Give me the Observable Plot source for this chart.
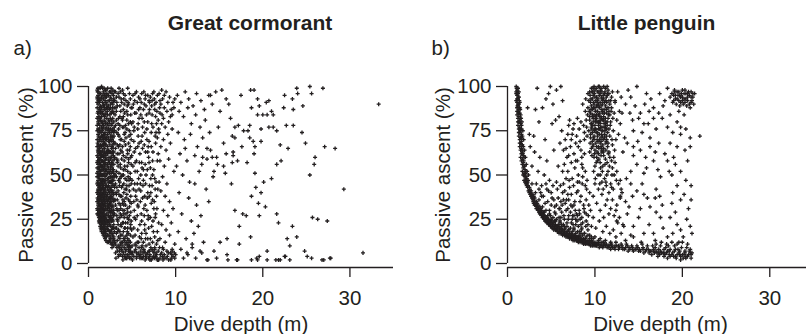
<!DOCTYPE html>
<html>
<head>
<meta charset="utf-8">
<script src="https://cdn.jsdelivr.net/npm/d3@7"></script>
<script src="https://cdn.jsdelivr.net/npm/@observablehq/plot@0.6"></script>
<style>
  html, body { margin: 0; padding: 0; background: #fff; overflow: hidden; }
  #wrap { position: relative; width: 806px; height: 334px; overflow: hidden; }
  #wrap > svg { position: absolute; top: 0; }
</style>
</head>
<body>
<div id="wrap"></div>
<script>
const panelTitles = ["Great cormorant", "Little penguin"];
const panelLetters = ["a)", "b)"];
const xLabel = "Dive depth (m)";
const yLabel = "Passive ascent (%)";
const depthDomain = [0, 35];
const depthTicks = [0, 10, 20, 30];
const ascentTicks = [0, 25, 50, 75, 100];

// Great cormorant: [dive depth (m), passive ascent (%)]
const cormorant = [
[1.1,97],[1.3,92],[1.0,88],[1.6,99],[1.4,85],[1.2,81],[1.8,95],[1.5,77],[1.1,73],[1.7,89],
[1.3,70],[1.9,84],[1.0,66],[1.4,63],[1.6,72],[1.2,59],[1.8,68],[1.5,55],[1.1,52],[1.7,61],
[1.3,48],[1.9,57],[1.0,45],[1.4,42],[1.6,50],[1.2,38],[1.8,46],[1.5,35],[1.1,33],[1.7,40],
[1.3,30],[1.9,37],[1.0,28],[1.4,26],[1.6,31],[1.2,24],[1.8,27],[1.5,22],[1.7,19],[1.9,21],
[1.2,99],[1.5,94],[1.0,91],[1.8,87],[1.3,83],[1.6,79],[1.1,76],[1.9,74],[1.4,71],[1.7,67],
[1.2,64],[1.5,61],[1.0,57],[1.8,54],[1.3,51],[1.6,47],[1.1,44],[1.9,41],[1.4,39],[1.7,36],
[1.2,32],[1.5,29],[1.0,31],[1.8,25],[1.3,27],[1.6,23],[1.9,18],[1.4,20],[1.7,16],[1.9,14],
[1.1,95],[1.4,96],[1.7,93],[1.0,82],[1.3,78],[1.6,85],[1.9,80],[1.2,69],[1.5,66],[1.8,63],
[1.1,60],[1.4,56],[1.7,53],[1.0,49],[1.3,45],[1.6,43],[1.9,49],[1.2,41],[1.5,38],[1.8,34],
[1.1,36],[1.4,33],[1.7,29],[1.3,35],[1.6,26],[1.9,30],[1.5,18],[1.8,22],[1.2,27],[1.4,24],
[1.0,98],[1.2,93],[1.4,89],[1.6,91],[1.8,99],[1.1,86],[1.3,74],[1.5,83],[1.7,78],[1.9,92],
[1.0,70],[1.2,75],[1.4,67],[1.6,64],[1.8,71],[1.1,63],[1.3,57],[1.5,58],[1.7,47],[1.9,62],
[1.0,54],[1.2,50],[1.4,52],[1.6,55],[1.8,51],[1.1,47],[1.3,42],[1.5,46],[1.7,44],[1.9,45],
[1.0,40],[1.2,44],[1.4,37],[1.6,39],[1.8,38],[1.1,39],[1.3,33],[1.5,31],[1.7,33],[1.9,34],
[1.0,35],[1.2,30],[1.4,29],[1.6,34],[1.8,30],[1.1,30],[1.3,25],[1.5,26],[1.7,24],[1.9,25],
[1.6,20],[1.8,18],[1.7,21],[1.9,16],[2.0,13],[1.5,23],[1.4,21],[1.3,23],[1.2,26],[1.1,28],
[1.0,94],[1.3,96],[1.5,100],[1.7,97],[1.9,96],[1.1,90],[1.3,87],[1.5,88],[1.7,84],[1.9,87],
[1.0,78],[1.2,85],[1.4,81],[1.6,76],[1.8,81],[1.1,80],[1.3,66],[1.5,72],[1.7,70],[1.9,67],
[1.0,61],[1.2,66],[1.4,60],[1.6,58],[1.8,58],[1.1,56],[1.3,62],[1.5,50],[1.7,57],[1.9,53],
[1.0,51],[1.2,54],[1.4,47],[1.6,45],[1.8,42],[1.1,42],[1.3,39],[1.5,42],[1.7,37],[1.9,39],
[1.2,36],[1.4,31],[1.6,28],[1.8,33],[1.3,28],[1.5,33],[1.7,26],[1.9,27],[1.6,24],[1.8,24],
[1.05,97],[1.15,92],[1.25,88],[1.35,99],[1.45,93],[1.55,86],[1.65,95],[1.75,90],[1.85,83],[1.95,98],
[1.05,85],[1.15,79],[1.25,76],[1.35,82],[1.45,74],[1.55,80],[1.65,71],[1.75,77],[1.85,73],[1.95,79],
[1.05,68],[1.15,72],[1.25,65],[1.35,61],[1.45,69],[1.55,63],[1.65,67],[1.75,60],[1.85,65],[1.95,70],
[1.05,58],[1.15,54],[1.25,57],[1.35,50],[1.45,55],[1.55,48],[1.65,53],[1.75,50],[1.85,56],[1.95,59],
[1.05,46],[1.15,49],[1.25,43],[1.35,47],[1.45,40],[1.55,44],[1.65,38],[1.75,42],[1.85,47],[1.95,43],
[1.05,37],[1.15,34],[1.25,39],[1.35,32],[1.45,36],[1.55,30],[1.65,35],[1.75,31],[1.85,36],[1.95,32],
[1.05,30],[1.15,27],[1.25,29],[1.35,25],[1.45,28],[1.55,24],[1.65,27],[1.75,22],[1.85,26],[1.95,23],
[1.35,21],[1.45,19],[1.55,20],[1.65,17],[1.75,18],[1.85,15],[1.95,19],[2.05,15],[2.15,12],[1.25,23],
[1.02,93],[1.12,83],[1.22,71],[1.32,59],[1.42,45],[1.52,35],[1.62,25],[1.72,23],[1.82,20],[1.92,17],
[1.08,64],[1.18,58],[1.28,53],[1.38,43],[1.48,33],[1.58,27],[1.68,41],[1.78,55],[1.88,68],[1.98,76],
[1.02,75],[1.12,67],[1.22,62],[1.32,55],[1.42,50],[1.52,53],[1.62,61],[1.72,73],[1.82,89],[1.92,94],
[1.08,99],[1.18,94],[1.28,91],[1.38,86],[1.48,80],[1.58,75],[1.68,69],[1.78,65],[1.88,61],[1.98,53],
[1.08,41],[1.18,45],[1.28,36],[1.38,40],[1.48,30],[1.58,38],[1.68,32],[1.78,28],[1.88,40],[1.98,47],
[2.0,98],[2.3,95],[2.6,99],[2.9,93],[2.1,90],[2.4,87],[2.7,91],[2.2,84],[2.5,82],[2.8,86],
[2.0,79],[2.3,76],[2.6,78],[2.9,74],[2.1,71],[2.4,69],[2.7,72],[2.2,66],[2.5,63],[2.8,67],
[2.0,61],[2.3,58],[2.6,60],[2.9,56],[2.1,53],[2.4,51],[2.7,54],[2.2,48],[2.5,46],[2.8,49],
[2.0,44],[2.3,41],[2.6,43],[2.9,39],[2.1,36],[2.4,34],[2.7,37],[2.2,31],[2.5,29],[2.8,32],
[2.0,27],[2.3,24],[2.6,26],[2.9,22],[2.1,20],[2.4,18],[2.7,21],[2.2,16],[2.5,14],[2.8,17],
[2.0,17],[2.3,12],[2.6,11],[2.9,10],[2.4,13],[2.7,9],[2.2,19],[2.5,21],[2.8,12],[2.1,23],
[2.1,96],[2.4,92],[2.7,96],[2.2,88],[2.5,94],[2.8,90],[2.0,85],[2.3,81],[2.6,85],[2.9,80],
[2.1,77],[2.4,74],[2.7,79],[2.2,73],[2.5,70],[2.8,76],[2.0,67],[2.3,64],[2.6,69],[2.9,63],
[2.1,59],[2.4,57],[2.7,62],[2.2,56],[2.5,53],[2.8,58],[2.0,52],[2.3,48],[2.6,51],[2.9,47],
[2.1,44],[2.4,40],[2.7,45],[2.2,39],[2.5,37],[2.8,41],[2.0,35],[2.3,32],[2.6,35],[2.9,30],
[2.1,28],[2.4,26],[2.7,29],[2.2,24],[2.5,25],[2.8,24],[2.3,19],[2.6,17],[2.9,15],[2.7,14],
[2.0,91],[2.2,99],[2.4,97],[2.6,93],[2.8,98],[2.3,89],[2.5,88],[2.7,86],[2.9,85],[2.1,82],
[2.4,80],[2.6,74],[2.8,71],[2.3,71],[2.5,76],[2.0,72],[2.2,62],[2.7,66],[2.9,68],[2.4,63],
[2.6,56],[2.8,53],[2.3,54],[2.5,59],[2.0,56],[2.2,51],[2.7,49],[2.9,51],[2.4,46],[2.6,47],
[2.8,44],[2.3,44],[2.5,42],[2.0,40],[2.2,43],[2.7,40],[2.9,35],[2.4,37],[2.6,38],[2.8,36],
[2.3,36],[2.5,33],[2.0,31],[2.2,35],[2.7,33],[2.9,27],[2.4,30],[2.6,30],[2.8,28],[2.5,18],
[2.05,94],[2.15,86],[2.25,92],[2.35,78],[2.45,84],[2.55,97],[2.65,81],[2.75,88],[2.85,95],[2.95,77],
[2.05,70],[2.15,64],[2.25,75],[2.35,60],[2.45,67],[2.55,72],[2.65,57],[2.75,63],[2.85,69],[2.95,59],
[2.05,50],[2.15,55],[2.25,46],[2.35,52],[2.45,43],[2.55,49],[2.65,41],[2.75,47],[2.85,53],[2.95,44],
[2.05,38],[2.15,33],[2.25,37],[2.35,29],[2.45,35],[2.55,27],[2.65,32],[2.75,25],[2.85,30],[2.95,36],
[2.05,25],[2.15,21],[2.25,27],[2.35,16],[2.45,23],[2.55,12],[2.65,19],[2.75,11],[2.85,20],[2.95,13],
[2.08,88],[2.18,79],[2.28,69],[2.38,57],[2.48,49],[2.58,40],[2.68,30],[2.78,20],[2.88,14],[2.98,18],
[2.08,63],[2.18,42],[2.28,33],[2.38,22],[2.48,15],[2.58,60],[2.68,70],[2.78,82],[2.88,92],[2.98,97],
[2.12,30],[2.22,22],[2.32,27],[2.42,31],[2.52,38],[2.62,46],[2.72,56],[2.82,65],[2.92,72],[2.12,95],
[2.55,90],[2.65,65],[2.75,52],[2.85,39],[2.95,88],[2.55,55],[2.65,85],[2.75,75],[2.85,61],[2.95,49],
[2.55,35],[2.65,24],[2.75,16],[2.85,27],
[3.1,97],[3.5,94],[3.9,98],[4.3,92],[4.7,96],[3.3,89],[3.7,86],[4.1,90],[4.5,84],[4.9,88],
[3.2,81],[3.6,78],[4.0,83],[4.4,76],[4.8,80],[3.4,73],[3.8,70],[4.2,74],[4.6,68],[3.0,75],
[3.1,65],[3.5,62],[3.9,66],[4.3,60],[4.7,64],[3.3,57],[3.7,54],[4.1,58],[4.5,52],[4.9,56],
[3.2,49],[3.6,46],[4.0,50],[4.4,44],[4.8,48],[3.4,41],[3.8,38],[4.2,42],[4.6,36],[3.0,43],
[3.1,33],[3.5,30],[3.9,34],[4.3,28],[4.7,32],[3.3,25],[3.7,22],[4.1,26],[4.5,20],[4.9,24],
[3.2,17],[3.6,14],[4.0,18],[4.4,12],[4.8,16],[3.4,10],[3.8,8],[4.2,11],[4.6,7],[3.0,12],
[3.1,6],[3.5,5],[3.9,4],[4.3,5],[4.7,3],[3.3,13],[3.7,16],[4.1,9],[4.5,14],[4.9,6],
[3.0,92],[3.4,96],[3.8,91],[4.2,95],[4.6,90],[3.2,86],[3.6,83],[4.0,87],[4.4,81],[4.8,93],
[3.1,78],[3.5,72],[3.9,77],[4.3,71],[4.7,75],[3.3,67],[3.7,64],[4.1,69],[4.5,62],[4.9,70],
[3.0,60],[3.4,55],[3.8,59],[4.2,53],[4.6,57],[3.2,52],[3.6,48],[4.0,53],[4.4,47],[4.8,51],
[3.1,45],[3.5,39],[3.9,44],[4.3,37],[4.7,41],[3.3,36],[3.7,31],[4.1,35],[4.5,29],[4.9,34],
[3.0,28],[3.4,22],[3.8,27],[4.2,20],[4.6,25],[3.2,20],[3.6,18],[4.0,23],[4.4,16],[4.8,20],
[3.1,11],[3.5,9],[3.9,12],[4.3,8],[4.7,10],[3.3,7],[3.7,5],[4.1,4],[4.5,5],[4.9,3],
[3.5,99],[4.0,96],[4.5,99],[3.2,94],[3.6,89],[4.4,86],[3.9,81],[4.6,79],[3.4,79],[4.1,73],
[3.6,67],[4.8,66],[3.3,62],[4.0,61],[4.6,59],[3.5,51],[4.2,48],[4.9,45],[3.2,39],[3.8,43],
[4.4,39],[3.5,34],[4.1,30],[4.7,27],[3.3,30],[3.9,23],[4.5,23],[3.6,26],[4.2,15],[4.8,12],
[3.05,84],[3.25,91],[3.45,76],[3.65,97],[3.85,82],[4.05,93],[4.25,78],[4.45,89],[4.65,72],[4.85,84],
[3.05,68],[3.25,59],[3.45,66],[3.65,56],[3.85,63],[4.05,45],[4.25,67],[4.45,55],[4.65,47],[4.85,60],
[3.05,50],[3.25,43],[3.45,47],[3.65,38],[3.85,50],[4.05,40],[4.25,33],[4.45,26],[4.65,44],[4.85,38],
[3.05,36],[3.25,27],[3.45,19],[3.65,33],[3.85,16],[4.05,28],[4.25,23],[4.45,18],[4.65,13],[4.85,29],
[3.05,20],[3.25,9],[3.45,15],[3.65,11],[3.85,7],[4.05,14],[4.25,7],[4.45,10],[4.65,4],[4.85,9],
[3.15,3],[3.55,7],[3.95,2],[4.35,3],[4.75,6],[3.75,12],[4.15,20],[3.35,24],[4.55,17],[3.95,30],
[3.15,88],[3.45,82],[3.75,93],[4.15,85],[4.55,91],[4.95,79],[3.25,74],[3.65,70],[4.05,77],[4.45,64],
[4.85,73],[3.35,58],[3.75,49],[4.15,55],[4.55,49],[4.95,61],[3.15,40],[3.55,44],[3.95,36],[4.35,42],
[4.75,35],[3.25,31],[3.65,28],[4.05,33],[4.45,31],[4.85,22],[3.35,18],[3.75,21],[4.15,13],[4.55,11],
[4.95,19],[3.45,4],[3.85,10],[4.25,3],[4.65,8],
[5.1,95],[5.6,91],[6.1,96],[6.6,89],[7.1,94],[7.6,90],[5.3,85],[5.8,82],[6.3,87],[6.8,80],
[7.3,84],[7.8,79],[5.2,75],[5.7,72],[6.2,77],[6.7,70],[7.2,74],[7.7,68],[5.4,65],[5.9,62],
[6.4,67],[6.9,60],[7.4,63],[7.9,58],[5.1,55],[5.6,52],[6.1,57],[6.6,50],[7.1,54],[7.6,48],
[5.3,45],[5.8,42],[6.3,47],[6.8,40],[7.3,44],[7.8,38],[5.2,35],[5.7,32],[6.2,37],[6.7,30],
[7.2,34],[7.7,28],[5.4,25],[5.9,22],[6.4,27],[6.9,20],[7.4,24],[7.9,18],[5.1,15],[5.6,12],
[6.1,17],[6.6,10],[7.1,14],[7.6,9],[5.3,7],[5.8,5],[6.3,4],[6.8,6],[7.3,3],[7.8,5],
[5.0,88],[5.5,97],[6.0,84],[6.5,93],[7.0,87],[7.5,97],[5.2,69],[5.7,79],[6.2,65],[6.7,76],
[7.2,66],[7.7,83],[5.5,58],[6.0,50],[6.5,56],[7.0,44],[7.5,53],[5.0,47],[5.4,38],[6.0,41],
[6.5,33],[7.0,38],[7.5,31],[5.6,27],[6.1,24],[6.6,17],[7.1,26],[7.6,15],[5.2,20],[5.8,9],
[6.3,12],[6.8,14],[7.3,8],[7.8,11],[5.5,3],[6.0,7],[6.5,2],[7.0,4],[7.5,6],[5.0,10],
[5.3,92],[5.9,88],[6.4,80],[7.4,77],[5.1,80],[5.8,68],[6.8,63],[7.9,71],[6.3,53],[5.6,45],
[5.15,90],[5.45,85],[5.75,94],[6.05,91],[6.35,97],[6.65,84],[6.95,92],[7.25,89],[7.55,93],[7.85,86],
[5.25,77],[5.65,66],[6.15,72],[6.55,63],[6.95,69],[7.35,58],[7.75,74],[5.35,52],[5.85,57],[6.25,44],
[6.75,53],[7.15,48],[7.65,42],[5.45,41],[5.95,35],[6.45,38],[6.85,27],[7.35,36],[7.85,31],[5.25,30],
[5.65,19],[6.05,14],[6.45,22],[6.95,11],[7.45,18],[7.95,13],[5.35,11],[5.85,15],[6.35,8],[7.15,9],
[5.05,2],[5.55,4],[6.05,3],[6.55,4],[7.05,2],[7.55,3],[8.05,2],[8.55,2],[9.05,4],[9.55,5],
[5.35,96],[5.75,87],[6.15,82],[6.55,95],[6.95,85],[7.35,96],[7.75,91],[8.15,88],[5.25,63],[5.65,76],
[6.05,69],[6.45,74],[6.85,66],[7.25,79],[7.65,72],[8.05,76],[8.45,84],[5.35,57],[5.75,48],[6.15,54],
[6.55,45],[6.95,57],[7.35,50],[7.75,46],[5.15,42],[5.55,36],[5.95,45],[6.35,31],[6.75,37],[7.15,40],
[7.55,35],[7.95,42],[5.25,26],[5.65,33],[6.05,28],[6.45,19],[6.85,25],[7.25,21],[7.65,26],[8.05,23],
[5.35,16],[5.75,12],[6.15,10],[6.55,14],[6.95,7],[7.35,12],[7.75,6],[8.15,9],[5.05,6],[5.45,10],
[5.85,4],[6.25,6],[6.65,3],[7.05,5],[7.45,4],[7.85,3],[8.25,5],[8.65,3],[9.15,6],[9.45,2],[9.85,6],
[5.2,4],[5.7,6],[6.2,3],[6.7,5],[7.2,2],[7.7,4],[8.2,3],[8.7,5],[9.2,2],[9.7,4],
[5.4,8],[5.9,3],[6.4,7],[6.9,3],[7.4,7],[7.9,2],[8.4,6],[8.9,3],[9.4,6],[9.9,3],
[4.0,6],[4.4,3],[4.8,7],[5.0,5],[5.5,6],[6.0,5],[6.5,6],[7.0,7],[7.5,4],[8.0,7],
[8.5,4],[9.0,7],[9.5,3],[10.0,5],[3.6,9],[4.6,9],[6.1,9],[7.6,8],[8.6,8],[9.6,7],
[8.1,96],[8.5,93],[8.9,97],[9.3,94],[9.7,91],[8.3,90],[8.7,88],[9.1,91],[9.5,87],[9.9,93],
[8.2,85],[8.6,82],[9.0,86],[9.4,83],[9.8,88],[8.4,79],[8.8,77],[9.2,80],[9.6,84],[8.0,81],
[8.1,74],[8.6,70],[9.1,73],[9.6,76],[8.3,66],[8.9,64],[9.4,68],[8.2,58],[8.7,55],[9.2,59],
[8.5,49],[9.0,45],[9.8,52],[8.3,41],[8.8,38],[9.3,35],[8.6,30],[9.1,27],[9.7,31],[8.4,22],
[8.9,19],[9.5,23],[8.2,14],[8.8,12],[9.3,16],[9.9,11],[8.5,9],[9.6,8],[8.0,62],[8.1,46],
[6.8,95],[7.3,92],[7.9,95],[8.4,98],[5.9,93],[6.4,90],[7.0,91],[7.6,87],[8.2,92],[8.7,95],
[10.2,95],[10.6,91],[11.1,97],[11.5,93],[12.0,89],[12.4,96],[12.9,92],[13.3,87],[13.8,95],[10.4,86],
[10.9,83],[11.4,88],[11.8,79],[12.3,84],[12.8,77],[13.4,81],[10.3,74],[11.0,70],[11.7,73],[12.5,66],
[13.1,71],[10.5,62],[11.3,58],[12.2,61],[13.0,56],[10.8,50],[11.6,46],[12.7,52],[10.4,40],[11.5,37],
[12.4,33],[13.5,42],[10.7,28],[11.8,24],[12.9,27],[10.3,18],[11.2,14],[12.1,17],[13.2,12],[10.6,8],
[11.4,5],[12.3,3],[13.0,6],[13.7,2],[10.9,3],[11.9,9],[12.6,21],[13.6,65],[10.1,55],[11.1,65],
[14.0,95],[14.3,49],[14.4,52],[14.8,56],[14.2,60],[14.7,60],[14.0,64],[13.1,60],[13.6,59],[15.3,98],
[15.8,93],[15.7,51],[15.5,55],[16.5,57],[17.1,58],[16.6,61],[16.6,63],[15.8,62],[16.4,45],[16.8,30],
[17.7,28],[18.1,27],[17.3,21],[17.3,11],[18.6,15],[16.0,2],[17.1,2],[18.7,2],[19.4,2],[19.6,4],
[20.5,2],[20.5,7],[19.1,51],[19.2,43],[18.7,38],[19.8,40],[20.1,46],[19.5,34],[20.3,32],[19.6,27],
[21.0,48],[21.6,28],[21.8,23],[22.5,4],[22.0,2],[21.5,2],[22.8,14],[23.9,15],[23.1,10],[23.4,21],
[24.8,7],[25.1,4],[25.6,3],[27.0,2],[27.8,3],[25.7,26],[26.3,25],[27.4,24],[25.4,50],[25.9,56],
[26.0,60],[24.9,68],[27.1,66],[28.3,65],[22.9,65],[22.0,67],[22.1,58],[21.6,56],[22.7,78],[23.5,78],
[24.5,74],[22.4,88],[23.5,87],[24.6,89],[23.4,93],[22.5,95],[24.0,96],[23.9,99],[25.4,100],[25.6,96],
[26.9,99],[33.3,90],[29.3,42],[31.5,6],[19.0,62],[19.1,66],[18.9,69],[18.5,71],[19.8,69],[16.8,71],
[16.5,72],[17.8,75],[18.3,75],[16.8,77],[17.2,78],[18.5,78],[19.8,76],[20.7,77],[21.2,77],[21.6,75],
[20.5,84],[21.2,84],[20.0,84],[19.4,84],[21.0,86],[20.4,91],[20.7,92],[19.6,89],[18.7,88],[19.4,93],
[18.6,98],[19.0,98],[17.5,95],[16.1,90],[14.6,97],[15.9,14],[15.1,12],[15.9,5],[17.0,2],[14.7,3],
[13.6,2],[12.8,7],[11.9,11],[14.4,7],[11.3,6],[19.3,3],[21.8,2],[22.6,4],[23.1,2],[26.8,2],
[27.7,3],[14.2,90],[15.1,86],[16.3,82],[14.9,77],[13.9,74],[15.5,68],[17.6,66],[18.2,57],[12.2,45],[13.8,35]
];

// Little penguin: [dive depth (m), passive ascent (%)]
const penguin = [
[1.0,100],[1.1,98],[1.2,99],[1.0,96],[1.3,97],[1.1,95],[1.2,93],[1.0,92],[1.3,94],[1.1,91],
[1.2,90],[1.4,91],[1.1,88],[1.3,87],[1.2,86],[1.4,85],[1.1,84],[1.3,83],[1.5,84],[1.2,82],
[1.4,81],[1.3,80],[1.5,79],[1.2,78],[1.4,77],[1.6,78],[1.3,76],[1.5,75],[1.4,74],[1.6,73],
[1.3,72],[1.5,71],[1.7,72],[1.4,70],[1.6,69],[1.5,68],[1.7,67],[1.4,66],[1.6,65],[1.8,66],
[1.5,64],[1.7,63],[1.6,62],[1.8,61],[1.5,60],[1.7,59],[1.9,60],[1.6,58],[1.8,57],[1.7,56],
[1.9,55],[1.8,54],[2.0,53],[1.7,52],[1.9,51],[2.1,52],[1.8,50],[2.0,49],[2.2,48],[1.9,47],
[1.0,97],[1.1,93],[1.2,89],[1.2,96],[1.3,90],[1.4,88],[1.5,82],[1.6,76],[1.6,71],[1.7,64],
[1.05,99],[1.15,96],[1.25,94],[1.15,89],[1.35,92],[1.25,85],[1.45,87],[1.35,80],[1.55,82],[1.45,76],
[1.65,80],[1.55,71],[1.75,75],[1.65,67],[1.85,70],[1.75,62],[1.95,64],[1.85,58],[2.05,60],[1.95,55],
[2.15,56],[2.05,51],[2.25,52],[2.15,47],[2.35,47],[2.25,45],[1.1,86],[1.2,80],[1.3,74],[1.4,68],
[2.0,46],[2.1,49],[2.2,44],[2.3,46],[2.4,41],[2.5,43],[2.6,39],[2.7,41],[2.8,37],[2.9,39],
[3.0,34],[3.1,37],[3.2,33],[3.3,35],[3.4,31],[3.5,33],[3.6,29],[3.7,32],[3.8,28],[3.9,30],
[4.0,26],[4.1,29],[4.2,25],[4.3,27],[4.4,24],[4.5,26],[4.6,23],[4.7,25],[4.8,22],[4.9,24],
[5.0,21],[5.1,24],[5.2,20],[5.3,23],[5.4,20],[5.5,22],[5.6,19],[5.7,21],[5.8,18],[5.9,21],
[6.0,18],[6.1,20],[6.2,17],[6.3,19],[6.4,17],[6.5,19],[6.6,16],[6.7,18],[6.8,16],[6.9,18],
[7.0,15],[7.1,17],[7.2,15],[7.3,17],[7.4,14],[7.5,16],[7.6,14],[7.7,16],[7.8,14],[7.9,15],
[8.0,13],[8.1,15],[8.2,13],[8.3,15],[8.4,13],[8.5,14],[8.6,12],[8.7,14],[8.8,12],[8.9,14],
[9.0,12],[9.2,13],[9.4,11],[9.6,13],[9.8,11],[10.0,12],[10.2,10],[10.4,12],[10.6,10],[10.8,12],
[11.0,10],[11.3,11],[11.6,9],[11.9,11],[12.2,9],[12.5,10],[12.8,9],[13.1,10],[13.4,8],[13.7,10],
[14.0,8],[14.3,9],[14.6,8],[14.9,9],[15.2,7],[15.5,9],[15.8,7],[16.1,8],[16.4,7],[16.7,8],
[17.0,7],[17.3,8],[17.6,6],[17.9,8],[18.2,6],[18.5,7],[18.8,5],[19.1,7],[19.4,5],[19.7,7],
[20.0,5],[20.3,6],[20.6,4],[20.9,6],[21.0,5],
[2.1,45],[2.3,43],[2.5,40],[2.7,38],[2.9,36],[3.1,33],[3.3,31],[3.5,30],[3.7,28],[3.9,27],
[4.1,26],[4.3,24],[4.5,23],[4.7,22],[4.9,21],[5.1,20],[5.3,19],[5.5,19],[5.7,18],[5.9,17],
[6.1,17],[6.3,16],[6.5,16],[6.7,15],[6.9,15],[7.1,14],[7.3,14],[7.5,13],[7.7,13],[7.9,13],
[8.1,12],[8.3,12],[8.5,12],[8.7,11],[8.9,11],[9.1,11],[9.3,11],[9.5,10],[9.7,10],[9.9,10],
[10.1,10],[10.5,9],[10.9,9],[11.4,9],[11.8,8],[12.3,8],[12.7,8],[13.2,8],[13.8,7],[14.4,7],
[15.0,7],[15.6,6],[16.2,6],[16.8,6],[17.4,5],[18.0,5],[18.6,4],[19.2,4],[19.8,4],[20.4,3],
[2.4,50],[2.8,45],[3.2,40],[3.6,36],[4.0,32],[4.4,30],[4.8,28],[5.2,26],[5.6,25],[6.0,23],
[6.4,22],[6.8,21],[7.2,20],[7.6,19],[8.0,18],[8.4,17],[8.8,17],[9.2,16],[9.6,15],[10.0,15],
[10.6,14],[11.2,13],[11.8,12],[12.4,12],[13.0,11],[13.6,11],[14.2,10],[14.8,10],[15.4,11],[16.0,10],
[2.55,42],[2.75,39],[2.95,37],[3.15,35],[3.35,32],[3.55,31],[3.75,29],[3.95,28],[4.15,27],[4.35,25],
[4.55,25],[4.75,23],[4.95,23],[5.15,22],[5.35,21],[5.55,20],[5.75,20],[5.95,19],[6.15,18],[6.35,18],
[6.55,17],[6.75,17],[6.95,16],[7.15,16],[7.35,15],[7.55,15],[7.75,15],[7.95,14],[8.15,14],[8.35,14],
[8.55,13],[8.75,13],[8.95,13],[9.15,12],[9.35,12],[9.55,12],[9.75,12],[9.95,11],[10.15,11],[10.35,11],
[3.0,38],[3.4,34],[3.8,31],[4.2,29],[4.6,27],[5.0,25],[5.4,24],[5.8,22],[6.2,21],[6.6,20],
[7.0,19],[7.4,18],[7.8,17],[8.2,16],[8.6,16],[9.0,15],[9.4,14],[9.8,14],[10.4,13],[11.0,12],
[1.95,50],[2.05,47],[2.2,46],[2.35,44],[2.5,41],[2.65,40],[2.8,38],[2.95,35],[3.1,35],[3.25,33],
[3.4,32],[3.55,30],[3.7,30],[3.85,29],[4.0,28],[4.2,27],[4.4,26],[4.6,24],[4.8,24],[5.0,23],
[5.3,22],[5.6,21],[5.9,20],[6.2,19],[6.5,18],[6.8,17],[7.1,16],[7.4,16],[7.7,15],[8.0,15],
[8.4,14],[8.8,13],[9.2,12],[9.6,12],[10.0,11],[10.4,11],[10.8,10],[11.2,10],[11.6,10],[12.0,9],
[10.7,11],[11.1,11],[11.5,10],[11.9,10],[12.3,10],[12.7,10],[13.1,9],[13.5,9],[13.9,9],[14.3,8],
[14.7,8],[15.1,8],[15.5,8],[15.9,8],[16.3,7],[16.7,7],[17.1,6],[17.5,7],[17.9,6],[18.3,7],
[16.5,5],[16.9,9],[17.2,4],[17.5,10],[17.8,6],[18.1,9],[18.3,3],[18.6,8],[18.9,6],[19.1,10],
[19.3,3],[19.5,8],[19.7,5],[19.9,9],[20.1,3],[20.3,7],[20.5,9],[20.7,5],[20.9,8],[21.0,3],
[17.0,11],[17.6,12],[18.2,11],[18.8,12],[19.4,11],[20.0,12],[20.6,11],[17.3,6],[17.9,4],[18.5,5],
[19.0,4],[19.6,6],[20.2,5],[20.8,7],[16.6,10],[19.8,2],[18.4,10],[19.2,8],[20.4,4],[21.1,6],
[9.6,99],[10.0,98],[10.4,100],[10.8,97],[11.2,99],[11.6,96],[9.8,95],[10.2,94],[10.6,96],[11.0,93],
[11.4,95],[11.8,92],[9.5,91],[9.9,90],[10.3,92],[10.7,89],[11.1,91],[11.5,88],[9.7,87],[10.1,86],
[10.5,88],[10.9,85],[11.3,87],[11.7,84],[9.4,83],[9.8,82],[10.2,84],[10.6,81],[11.0,83],[11.4,80],
[9.6,79],[10.0,78],[10.4,80],[10.8,77],[11.2,79],[11.6,76],[9.3,75],[9.7,74],[10.1,76],[10.5,73],
[10.9,75],[11.3,72],[9.5,71],[9.9,70],[10.3,72],[10.7,69],[11.1,71],[11.5,68],[9.8,67],[10.2,66],
[10.6,68],[11.0,65],[9.4,63],[10.4,62],[10.8,64],[9.9,60],[10.3,58],[10.7,61],[11.2,59],[10.0,55],
[9.9,100],[10.3,97],[10.7,99],[11.1,96],[11.5,98],[9.7,93],[10.1,92],[10.5,95],[10.9,92],[11.3,94],
[11.7,90],[9.6,89],[10.0,88],[10.4,90],[10.8,87],[11.2,89],[11.6,86],[9.5,85],[9.9,84],[10.3,86],
[10.7,83],[11.1,85],[11.5,82],[9.4,81],[9.8,80],[10.2,82],[10.6,79],[11.0,81],[11.4,78],[9.6,77],
[10.0,76],[10.4,78],[10.8,75],[11.2,77],[9.5,73],[9.9,72],[10.3,74],[10.7,71],[11.1,73],[9.7,69],
[10.1,68],[10.5,70],[10.9,67],[11.3,69],[9.6,65],[10.0,64],[10.4,66],[10.8,63],[10.2,60],[10.6,57],
[9.65,97],[10.15,99],[10.65,98],[11.15,97],[9.85,91],[10.35,93],[10.85,90],[11.35,91],[9.55,87],[10.05,86],
[10.55,85],[11.05,87],[11.55,84],[9.75,83],[10.25,80],[10.75,82],[11.25,80],[9.65,76],[10.15,74],[10.65,77],
[11.15,75],[9.85,71],[10.35,69],[10.85,72],[11.35,70],[9.75,66],[10.25,63],[10.75,65],[11.25,64],[10.45,59],
[9.45,95],[9.95,96],[10.45,97],[10.95,95],[11.45,96],[9.55,79],[10.05,81],[10.55,83],[11.05,79],[11.45,74],
[9.35,86],[9.85,88],[10.35,89],[10.85,86],[11.35,85],[9.45,68],[9.95,75],[10.45,76],[10.95,70],[11.45,66],
[9.65,61],[10.15,57],[10.65,54],[11.15,56],[9.85,52],[10.35,50],[10.85,52],[11.35,50],[10.05,48],[10.55,45],
[9.75,97],[10.25,91],[10.75,94],[11.25,92],[9.55,93],[10.05,83],[10.55,80],[11.05,77],[9.75,78],[10.25,70],
[10.75,73],[11.25,68],[9.95,62],[10.45,65],[10.95,63],[11.55,62],[9.15,84],[9.05,77],[8.95,93],[11.85,86],
[12.05,82],[11.75,78],[11.95,70],[12.25,64],[12.15,60],[11.65,55],[11.95,50],[12.45,47],[11.25,46],[10.95,42],
[8.6,90],[8.9,86],[9.2,96],[9.0,81],[8.7,78],[9.1,72],[8.8,70],[9.2,88],[12.0,97],[12.3,92],
[11.9,88],[12.2,85],[12.5,81],[11.8,80],[12.1,75],[11.7,72],[12.4,70],[12.0,67],[11.6,63],[11.9,58],
[10.5,100],[11.0,100],[9.4,97],[11.9,94],[9.3,92],[10.9,81],[10.5,76],[10.1,80],[11.3,76],[10.2,89],
[10.6,91],[10.0,94],[9.8,99],[11.4,100],[10.8,93],[11.6,92],[10.4,84],[9.7,84],[11.2,82],[10.7,66],
[10.9,55],[11.5,52],[11.1,48],[11.8,45],[12.2,50],[11.4,57],[12.0,54],[11.0,61],[11.7,60],[12.3,57],
[10.6,50],[11.3,44],[12.1,42],[11.6,40],[10.8,46],
[6.2,75],[6.6,70],[7.0,78],[7.4,73],[7.8,68],[8.2,76],[6.4,64],[6.8,60],[7.2,66],[7.6,62],
[8.0,58],[8.4,64],[6.5,56],[6.9,52],[7.3,57],[7.7,54],[8.1,50],[8.5,56],[7.1,81],[7.6,79],
[8.0,82],[8.4,80],[8.8,62],[8.6,54],[6.0,68],[7.9,72],[7.3,70],[6.7,65],[8.3,69],[8.8,74],
[7.5,76],[8.1,66],[6.9,73],[7.0,61],[8.5,60],[7.8,58],[8.9,52],[8.2,46],[7.4,48],[6.3,52],
[18.8,96],[19.2,95],[19.6,97],[20.0,94],[20.4,96],[20.8,95],[21.2,94],[19.0,92],[19.4,93],[19.8,91],
[20.2,93],[20.6,92],[21.0,91],[19.3,90],[19.7,89],[20.1,90],[20.5,89],[20.9,88],[18.6,94],[21.4,96],
[19.5,95],[19.9,96],[20.3,91],[20.7,97],[21.1,92],[18.9,91],[20.0,98],[19.1,97],[20.6,94],[21.3,90],
[19.0,95],[19.4,97],[19.8,94],[20.2,96],[20.6,96],[21.0,94],[19.6,92],[20.0,92],[20.4,93],[20.8,90],
[19.2,93],[21.2,96],[20.3,98],[19.7,95],[21.0,97],
[4.9,100],[4.7,96],[6.1,100],[5.6,98],[3.2,87],[4.0,88],[3.6,80],[2.5,73],[3.0,72],[5.9,83],
[5.5,81],[5.1,79],[2.6,66],[3.1,63],[4.3,70],[3.7,60],[4.5,58],[5.3,64],[2.8,55],[3.5,52],
[4.2,50],[5.8,55],[4.8,47],[3.9,44],[5.6,46],[2.3,88],[4.4,93],[5.2,90],[3.4,99],[6.3,92],
[3.6,42],[4.1,38],[4.6,35],[5.0,40],[5.4,32],[5.8,37],[6.2,29],[6.6,34],[7.0,27],[7.4,32],
[7.8,25],[8.2,30],[8.6,23],[9.0,28],[4.4,45],[5.0,33],[5.5,28],[6.0,31],[6.5,25],[7.0,36],
[7.5,22],[8.0,27],[8.5,20],[9.0,24],[4.8,30],[5.3,36],[5.9,26],[6.3,40],[6.8,23],[7.2,29],
[7.7,35],[8.1,21],[8.7,33],[9.2,19],[5.7,42],[6.4,45],[7.1,43],[7.9,40],[8.4,38],[8.9,44],
[6.1,35],[6.9,31],[7.6,27],[8.3,25],[8.8,29],[9.3,33],[5.2,44],[6.7,48],[7.3,39],[8.0,46],
[9.4,40],[9.1,47],[8.6,49],[6.0,24],[6.5,21],[7.0,19],[7.6,20],[8.2,18],[8.8,17],[9.4,16],
[4.3,34],[3.9,38],[4.7,41],[5.5,24],[6.2,22],[7.4,25],[8.4,22],[9.6,21],[9.8,26],[9.5,30],
[3.3,45],[3.8,40],[4.5,42],[5.1,37],[5.6,33],[6.4,36],[6.9,39],[7.6,33],[8.3,35],[9.0,36],
[4.9,27],[5.4,29],[6.1,26],[6.7,30],[7.3,23],[7.9,28],[8.5,26],[9.2,22],[5.9,31],[7.8,22],
[6.05,44],[6.55,41],[7.05,47],[7.55,44],[8.05,41],[8.55,45],[9.05,42],[6.25,33],[6.75,36],[7.25,33],
[7.75,30],[8.25,28],[8.75,31],[9.25,27],[6.45,27],[6.95,25],[7.45,27],[7.95,24],[8.45,19],[8.95,21],
[9.8,38],[10.2,34],[10.6,30],[11.0,26],[11.4,36],[11.8,31],[12.2,27],[12.6,23],[10.1,20],[10.5,24],
[10.9,18],[11.3,21],[11.7,17],[12.1,19],[12.5,33],[12.9,38],[10.4,42],[10.8,39],[11.2,33],[11.6,28],
[12.0,36],[12.4,30],[12.8,26],[13.2,22],[10.0,45],[11.9,43],[12.7,45],[13.1,40],[13.5,35],[13.0,17],
[14.8,100],[14.1,94],[12.3,91],[13.5,90],[15.2,85],[16.7,88],[17.4,96],[18.3,99],[19.1,98],[17.3,85],
[16.7,82],[17.7,82],[15.6,79],[14.3,81],[13.1,85],[12.9,79],[14.4,75],[15.4,74],[18.3,77],[19.4,80],
[19.8,77],[19.8,73],[20.9,71],[22.0,72],[16.3,71],[17.3,68],[18.6,68],[19.4,66],[20.3,64],[13.7,68],
[14.4,66],[15.2,64],[16.3,66],[14.4,61],[15.8,60],[16.7,58],[18.3,58],[19.2,56],[19.8,52],[18.8,50],
[17.5,49],[15.6,51],[14.1,52],[12.9,47],[14.1,45],[14.8,41],[14.3,38],[12.9,37],[16.0,37],[16.9,37],
[17.7,33],[18.8,34],[19.8,36],[20.7,31],[18.6,26],[17.5,26],[16.3,32],[15.2,31],[13.7,28],[12.5,24],
[13.3,21],[14.4,21],[15.6,17],[16.7,17],[19.4,22],[19.8,19],[20.9,21],[21.1,17],[20.1,15],[18.3,15],
[14.4,15],[11.8,11],
[12.6,97],[13.8,98],[15.9,96],[16.4,93],[13.0,94],[14.6,89],[15.7,90],[18.0,92],[17.8,89],[16.2,86],
[19.6,86],[18.6,84],[20.2,84],[14.0,85],[12.8,86],[15.0,82],[16.1,79],[17.0,76],[18.9,74],[20.4,76],
[12.7,73],[13.4,71],[14.9,69],[16.9,63],[18.0,62],[19.0,60],[20.6,58],[20.9,66],[13.2,63],[14.8,56],
[15.9,54],[17.2,53],[18.5,52],[20.4,47],[21.0,44],[19.4,44],[17.0,42],[15.4,45],[13.6,48],[12.5,52],
[13.0,42],[15.6,39],[17.4,38],[18.9,40],[20.2,39],[21.0,36],[19.2,29],[17.0,29],[15.0,26],[13.9,32],
[16.2,22],[17.8,20],[18.9,17],[20.5,25],[16.9,13],[15.3,12],[19.6,12],[14.1,16],[12.4,15],[13.5,13]
];

const ink = "#231f20";
const font = "'Liberation Sans', Arial, Helvetica, sans-serif";
const fs = 20.5;

function panel(data, i, cfg) {
  return Plot.plot({
    width: cfg.width,
    height: 334,
    marginLeft: cfg.ml,
    marginRight: cfg.mr,
    marginTop: 82,
    marginBottom: 67,
    style: { fontFamily: font, fontSize: fs + "px", color: ink, background: "transparent", overflow: "visible" },
    x: { domain: depthDomain },
    y: { domain: [ascentTicks[0], ascentTicks[ascentTicks.length - 1]], range: [263, 86] },
    marks: [
      Plot.dot(data, { x: d => d[0], y: d => d[1], symbol: "plus", r: 1.4, stroke: ink, strokeWidth: 1.3 }),
      Plot.ruleX([depthDomain[0]], { y1: ascentTicks[0], y2: ascentTicks[ascentTicks.length - 1], stroke: ink, strokeWidth: 1.3 }),
      Plot.ruleY([ascentTicks[0]], { x1: depthDomain[0], x2: depthDomain[1], dy: 4, stroke: ink, strokeWidth: 1.3 }),
      Plot.axisY({ ticks: ascentTicks, tickSize: 11, tickPadding: 5, fontSize: fs, strokeWidth: 1.3, label: null }),
      Plot.axisX({ ticks: depthTicks, tickSize: 10, tickPadding: 13, fontSize: fs, strokeWidth: 1.3, label: null }),
      Plot.text([xLabel], { text: d => d, frameAnchor: "bottom", lineAnchor: "bottom", dy: 63, fontSize: fs, fill: ink }),
      Plot.text([yLabel], { text: d => d, frameAnchor: "left", textAnchor: "middle", rotate: -90, lineAnchor: "bottom", dx: cfg.ylx, fontSize: fs, fill: ink }),
      Plot.text([panelTitles[i]], { text: d => d, frameAnchor: "top", lineAnchor: "bottom", dx: cfg.tdx, dy: -53, fontSize: 21, fontWeight: "bold", fill: ink }),
      Plot.text([panelLetters[i]], { text: d => d, frameAnchor: "top-left", textAnchor: "start", lineAnchor: "bottom", dx: cfg.ldx, dy: -28, fontSize: fs, fill: ink })
    ]
  });
}

const wrap = document.getElementById("wrap");
const a = panel(cormorant, 0, { width: 403, ml: 88, mr: 10, ylx: -56, tdx: 9, ldx: -75 });
a.style.left = "0px";
wrap.appendChild(a);
const b = panel(penguin, 1, { width: 410, ml: 104, mr: 0, ylx: -58, tdx: -14, ldx: -76 });
b.style.left = "403px";
wrap.appendChild(b);
</script>
</body>
</html>
